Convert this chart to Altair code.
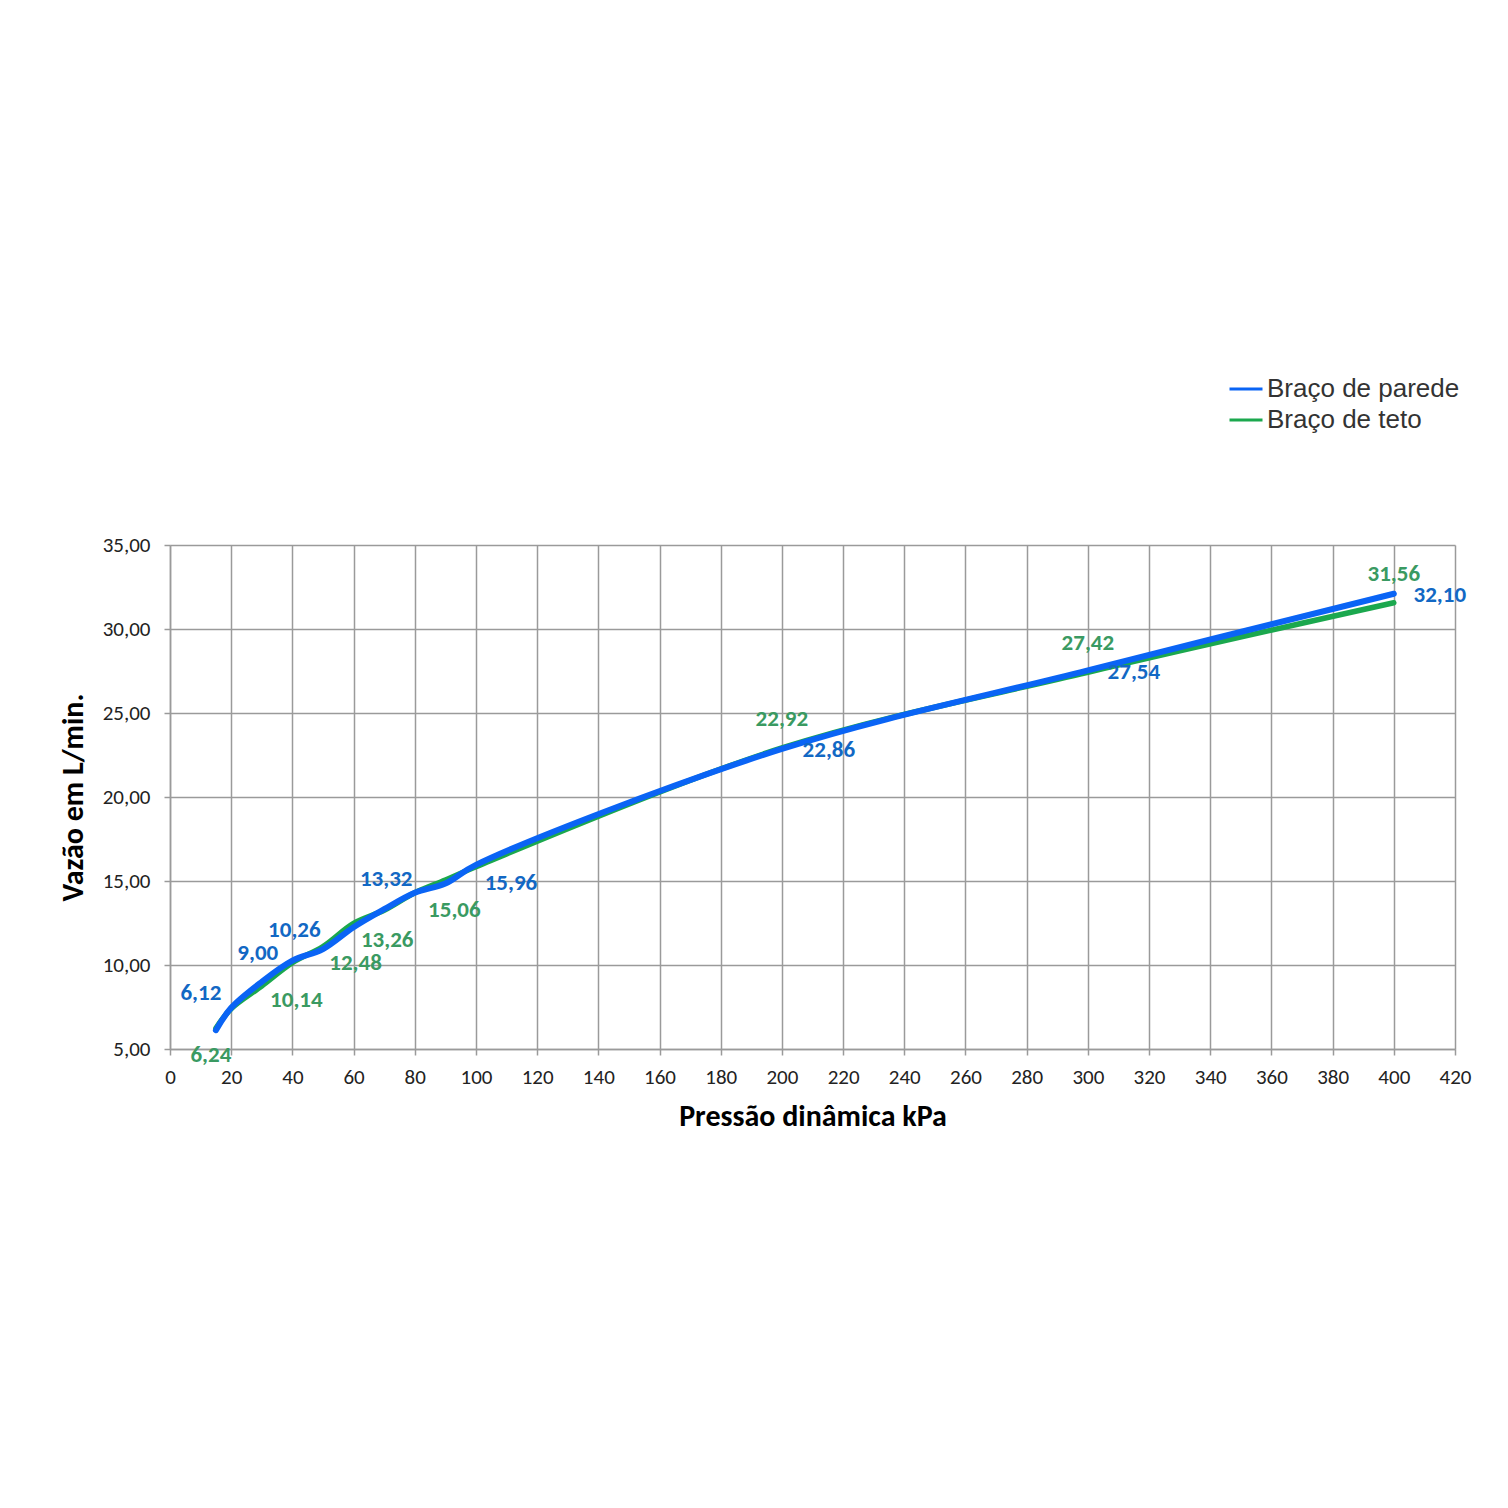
import altair as alt
import pandas as pd

# ---- data ----
pressure = [15, 20, 30, 40, 50, 60, 70, 80, 90, 100, 200, 300, 400]
parede = [6.12, 7.45, 9.00, 10.26, 10.95, 12.25, 13.32, 14.30, 14.85, 15.96, 22.86, 27.54, 32.10]
teto = [6.24, 7.40, 8.75, 10.14, 11.10, 12.48, 13.26, 14.30, 15.06, 15.85, 22.92, 27.42, 31.56]

series_names = ["Braço de parede", "Braço de teto"]

# labelled points (series, pressure, value)
lab_series = ["Braço de parede"] * 8 + ["Braço de teto"] * 8
lab_x = [15, 30, 40, 70, 100, 200, 300, 400, 15, 40, 60, 70, 90, 200, 300, 400]
lab_y = [6.12, 9.00, 10.26, 13.32, 15.96, 22.86, 27.54, 32.10,
         6.24, 10.14, 12.48, 13.26, 15.06, 22.92, 27.42, 31.56]
lab_text = ["6,12", "9,00", "10,26", "13,32", "15,96", "22,86", "27,54", "32,10",
            "6,24", "10,14", "12,48", "13,26", "15,06", "22,92", "27,42", "31,56"]

# label placement offsets (pixels) – styling only
lab_dx = [-15, -4, 2, 2, 35, 47, 46, 46, -5, 4, 2, 3, 9, 0, 0, 0]
lab_dy = [-37, -29, -31, -30, 18, 1, 2, 1, 27, 37, 40, 30, 30, -29, -29, -29]

line_colors = ["#0A64F5", "#1BA84E"]
label_colors = {"Braço de parede": "#1268C4", "Braço de teto": "#3A9A62"}

df = pd.DataFrame({
    "Pressão": pressure * 2,
    "Vazão": parede + teto,
    "Série": [series_names[0]] * len(pressure) + [series_names[1]] * len(pressure),
})

lab_df = pd.DataFrame({"Série": lab_series, "Pressão": lab_x, "Vazão": lab_y, "txt": lab_text})

FONT = "Carlito, Lato, Open Sans, sans-serif"

x_enc = alt.X("Pressão:Q",
              scale=alt.Scale(domain=[0, 420], nice=False, zero=False),
              axis=alt.Axis(values=list(range(0, 421, 20)), title="Pressão dinâmica kPa",
                            grid=True, gridColor="#9a9a9a", gridWidth=1.5,
                            domainColor="#9a9a9a", domainWidth=1.5,
                            tickColor="#9a9a9a", tickSize=6, tickWidth=1.5,
                            labelFont=FONT, labelFontSize=21, labelColor="#222222",
                            labelPadding=11, labelFlush=False,
                            titleFont=FONT, titleFontSize=30, titleFontWeight="bold",
                            titleColor="#000000", titlePadding=14))
y_enc = alt.Y("Vazão:Q",
              scale=alt.Scale(domain=[5, 35], nice=False, zero=False),
              axis=alt.Axis(values=list(range(5, 36, 5)), title="Vazão em L/min.",
                            labelExpr="replace(format(datum.value, '.2f'), '.', ',')",
                            grid=True, gridColor="#9a9a9a", gridWidth=1.5,
                            domainColor="#9a9a9a", domainWidth=1.5,
                            tickColor="#9a9a9a", tickSize=6, tickWidth=1.5,
                            labelFont=FONT, labelFontSize=21, labelColor="#222222",
                            labelPadding=14, labelFlush=False,
                            titleFont=FONT, titleFontSize=30, titleFontWeight="bold",
                            titleColor="#000000", titlePadding=14))

color_enc = alt.Color("Série:N",
                      scale=alt.Scale(domain=series_names, range=line_colors),
                      legend=alt.Legend(title=None, orient="none", legendX=1058, legendY=-174,
                                        symbolType="stroke", symbolSize=1089,
                                        symbolStrokeWidth=3, labelFont="Liberation Sans",
                                        labelFontSize=26, labelColor="#333333", labelLimit=0,
                                        labelOffset=3, rowPadding=-6, padding=0))

base = alt.Chart(df)
green_line = base.transform_filter(alt.datum["Série"] == series_names[1]).mark_line(
    strokeWidth=5.5, interpolate="catmull-rom", strokeCap="round").encode(x=x_enc, y=y_enc, color=color_enc)
blue_line = base.transform_filter(alt.datum["Série"] == series_names[0]).mark_line(
    strokeWidth=6, interpolate="catmull-rom", strokeCap="round").encode(x=x_enc, y=y_enc, color=color_enc)

layers = [green_line, blue_line]
for i in range(len(lab_text)):
    one = alt.Chart(lab_df.iloc[[i]]).mark_text(
        dx=lab_dx[i], dy=lab_dy[i], font=FONT, fontSize=23, fontWeight="bold",
        color=label_colors[lab_series[i]], align="center", baseline="middle"
    ).encode(x="Pressão:Q", y="Vazão:Q", text="txt:N")
    layers.append(one)

chart = alt.layer(*layers).properties(
    width=1285, height=504,
    autosize="none",
    padding={"left": 162, "top": 537, "right": 45, "bottom": 451},
    background="#FFFFFF",
).configure_view(stroke=None)

chart.save("out.html", embed_options={"renderer": "svg", "actions": False})
